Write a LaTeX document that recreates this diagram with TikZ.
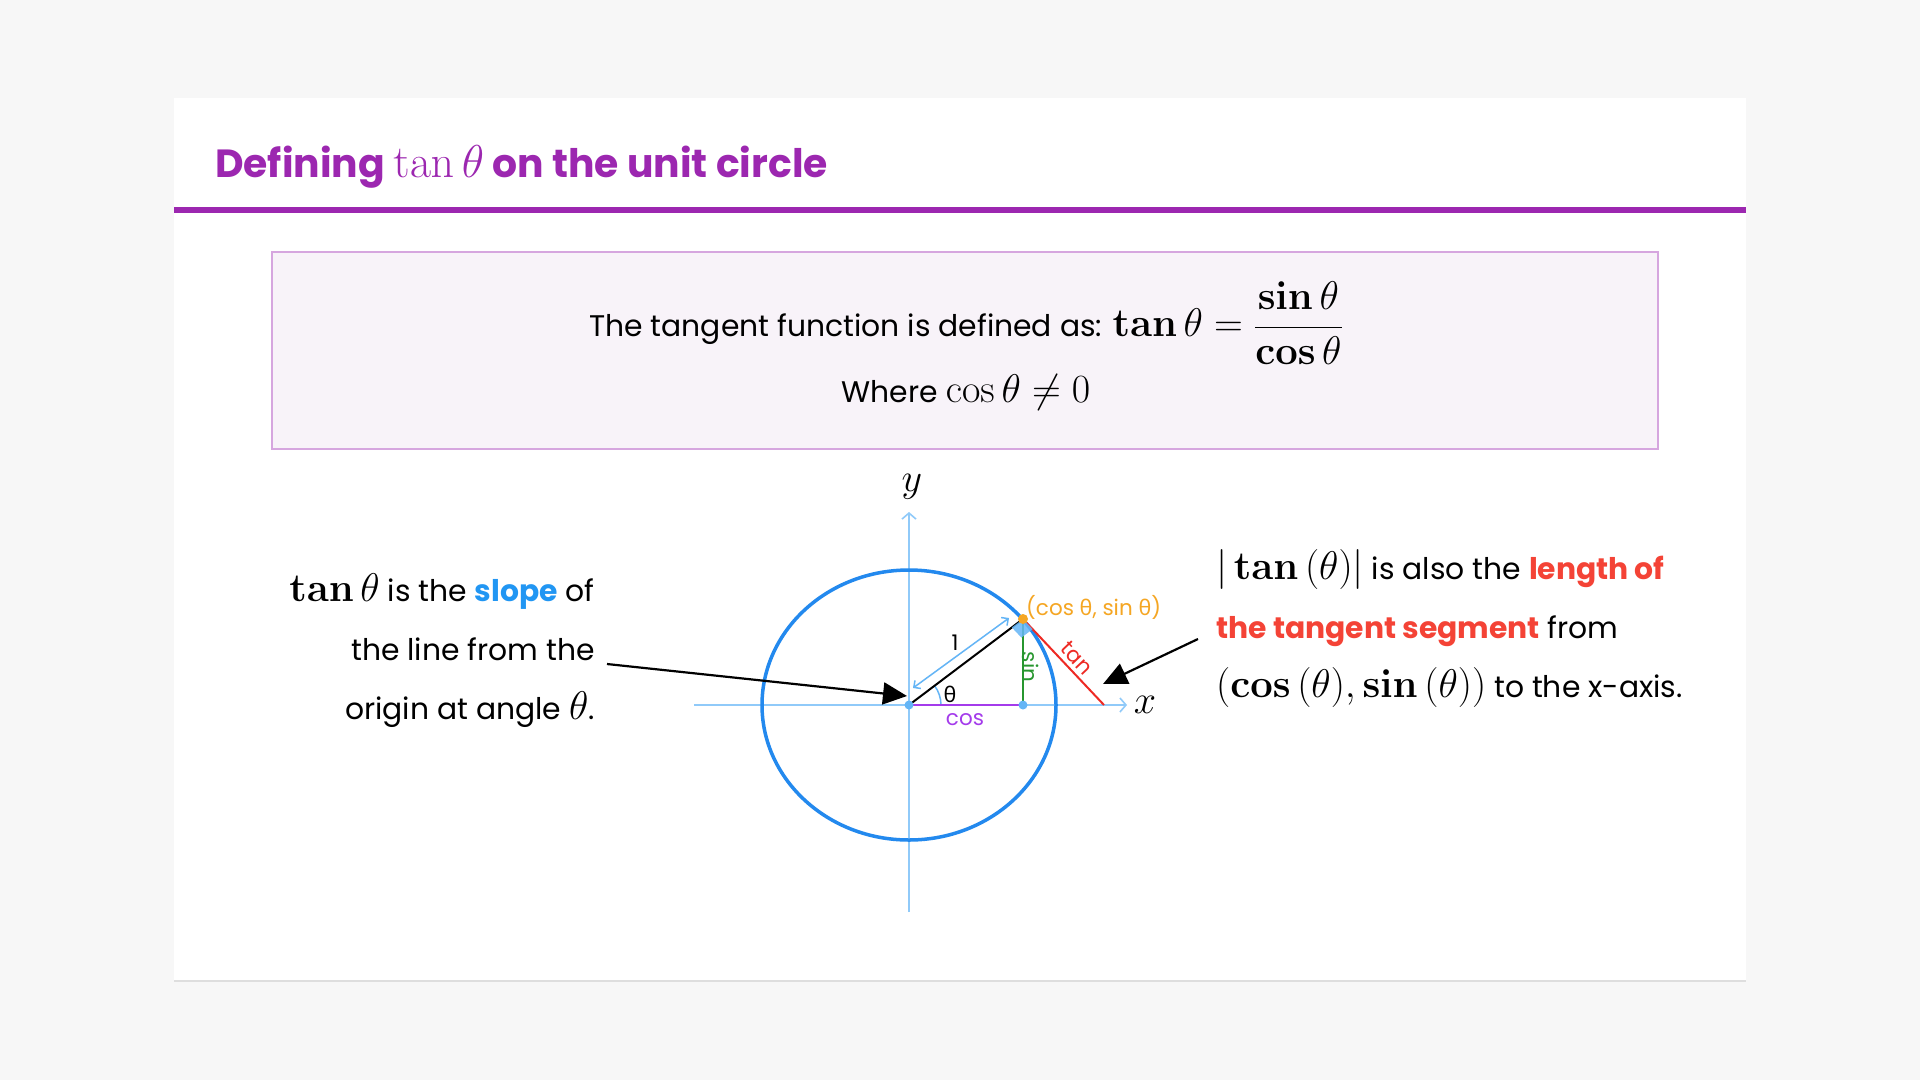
\RequirePackage{fix-cm}
\documentclass[tikz,border=0pt]{standalone}
\usepackage[no-math]{fontspec}
\setmainfont{Poppins}
\newfontfamily\grk{Noto Sans}
\usetikzlibrary{arrows.meta,calc}
\definecolor{bgc}{HTML}{F7F7F7}
\definecolor{ttl}{HTML}{9C27B0}
\definecolor{boxfill}{HTML}{F8F3F9}
\definecolor{boxline}{HTML}{D6A6DF}
\definecolor{circ}{HTML}{2389EE}
\definecolor{axisc}{HTML}{90CAF9}
\definecolor{dotc}{HTML}{64B5F6}
\definecolor{orng}{HTML}{F5A623}
\definecolor{cosc}{HTML}{A43BEB}
\definecolor{sinc}{HTML}{27962F}
\definecolor{tanc}{HTML}{EE2A24}
\definecolor{slopec}{HTML}{2196F3}
\definecolor{redt}{HTML}{F44336}
\newcommand{\M}[1]{{\fontsize{40}{44}\selectfont$#1$}}
\tikzset{
  body/.style={font=\fontsize{29.8}{36}\selectfont, inner sep=0pt},
  small/.style={font=\fontsize{21.5}{24}\selectfont, inner sep=1pt},
  axisline/.style={draw=axisc, line width=1.6pt, -{Straight Barb[length=6pt,width=14pt,line width=1.6pt]}},
  bigarrow/.style={draw=black, line width=2.2pt, -{Triangle[length=24pt,width=22pt]}},
  unitarrow/.style={draw=dotc, line width=1.5pt, {Straight Barb[length=5pt,width=10pt]}-{Straight Barb[length=5pt,width=10pt]}},
  dotn/.style={circle, fill=#1, inner sep=0pt, minimum size=9pt}
}
\begin{document}
\begin{tikzpicture}[x=1pt,y=1pt]
\useasboundingbox (0,0) rectangle (1920,-1080);
\fill[bgc] (0,0) rectangle (1920,-1080);
% card
\fill[black!13] (174,-100) rectangle (1746,-982);
\fill[white] (174,-98) rectangle (1746,-980);
% title
\node[anchor=base west, inner sep=0pt, text=ttl, font=\fontsize{39.3}{44}\selectfont\bfseries] (title) at (215,-177)
  {Defining {\fontsize{46}{50}\selectfont\mdseries$\tan\theta$} on the unit circle};
\fill[ttl] (174,-206.5) rectangle (1746,-212.5);
% definition box
\draw[fill=boxfill, draw=boxline, line width=2pt] (272,-252) rectangle (1658,-449);
\node[body] (def1) at (966,-323) {The tangent function is defined as: \M{\mathbf{tan}\,\theta=\displaystyle\frac{\mathbf{sin}\,\theta}{\mathbf{cos}\,\theta}}};
\node[body] (def2) at (966,-392) {Where \M{\cos\theta\neq 0}};
% diagram geometry
\coordinate (O) at (909,-705);
\coordinate (P) at (1023,-619);
\coordinate (F) at (1023,-705);
\coordinate (T) at (1104,-705);
\coordinate (xs) at (694,-705);
\coordinate (xe) at (1127,-705);
\coordinate (ys) at (909,-912);
\coordinate (ye) at (909,-512);
\draw[axisline] (xs) -- (xe);
\draw[axisline] (ys) -- (ye);
\draw[circ, line width=3.5pt] (O) ellipse [x radius=147pt, y radius=135pt];
\node[inner sep=0pt] (ylab) at (912,-487) {\M{y}};
\node[inner sep=0pt] (xlab) at (1145,-705) {\M{x}};
% angle arc
\draw[dotc, line width=1.5pt] ($(O)+(32,0)$) arc[start angle=0, end angle=37, radius=32pt];
% lines
\draw[cosc, line width=2.5pt] (O) -- (F);
\draw[sinc, line width=2pt] (P) -- (F);
\draw[tanc, line width=2pt] (P) -- (T);
\draw[black, line width=2pt] (O) -- (P);
\coordinate (ua) at (913,-688);
\coordinate (ub) at (1009,-618);
\draw[unitarrow] (ua) -- (ub);
% right angle marker
\fill[dotc, opacity=0.85] (P) -- (1011.8,-627.4) -- (1021.4,-637.6) -- (1032.6,-629.2) -- cycle;
% dots
\node[dotn=dotc] (Odot) at (O) {};
\node[dotn=dotc] (Fdot) at (F) {};
\node[dotn=orng, minimum size=10pt] (Pdot) at (P) {};
% small labels
\node[small] (one) at (955,-643) {1};
\node[small] (th) at (950,-694) {\grk θ};
\node[small, text=cosc] (coslab) at (965,-720) {cos};
\node[small, text=sinc, rotate=-90] (sinlab) at (1031,-667) {sin};
\node[small, text=tanc, rotate=-46.7] (tanlab) at (1077,-658) {tan};
\node[small, text=orng, anchor=west] (plab) at (1025,-607) {(cos {\grk θ}, sin {\grk θ})};
% left text
\node[body, anchor=base east] (l1) at (595,-601) {\M{\mathbf{tan}\,\theta} is the \textcolor{slopec}{\textbf{slope}} of};
\node[body, anchor=base east] (l2) at (595,-660) {the line from the};
\node[body, anchor=base east] (l3) at (595,-719) {origin at angle \M{\theta}.};
% right text
\node[body, anchor=base west] (r1) at (1216,-579) {\M{|\,\mathbf{tan}\,(\theta)|} is also the \textcolor{redt}{\textbf{length of}}};
\node[body, anchor=base west] (r2) at (1216,-638) {\textcolor{redt}{\textbf{the tangent segment}} from};
\node[body, anchor=base west] (r3) at (1216,-697) {\M{\bigl(\mathbf{cos}\,(\theta),\mathbf{sin}\,(\theta)\bigr)} to the x-axis.};
% arrows
\coordinate (la) at (607,-664);
\coordinate (lb) at (907,-696);
\draw[bigarrow] (la) -- (lb);
\coordinate (ra) at (1198,-639);
\coordinate (rb) at (1103,-684);
\draw[bigarrow] (ra) -- (rb);
\end{tikzpicture}
\end{document}
